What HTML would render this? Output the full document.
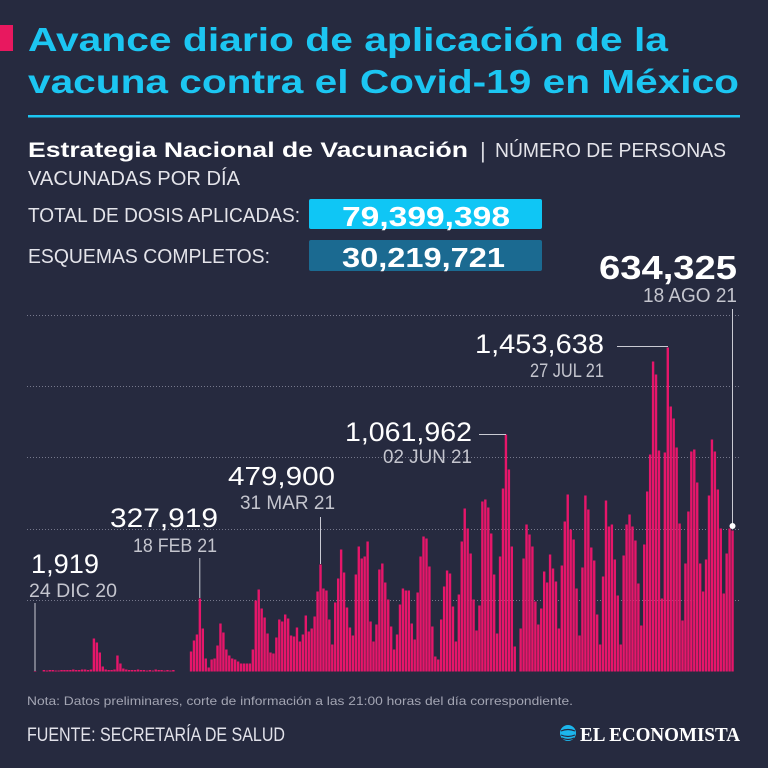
<!DOCTYPE html>
<html><head><meta charset="utf-8"><style>
html,body{margin:0;padding:0;background:#262a3f;}
svg{display:block;}
text{font-family:"Liberation Sans",sans-serif;}
</style></head><body>
<svg width="768" height="768" viewBox="0 0 768 768" xmlns="http://www.w3.org/2000/svg">
<rect x="0" y="0" width="768" height="768" fill="#262a3f"/>
<rect x="0" y="25" width="13" height="26" fill="#e8185f"/>
<text x="28" y="51" font-size="33" font-weight="bold" fill="#1cc6f2" textLength="640" lengthAdjust="spacingAndGlyphs">Avance diario de aplicación de la</text>
<text x="28" y="93" font-size="33" font-weight="bold" fill="#1cc6f2" textLength="711" lengthAdjust="spacingAndGlyphs">vacuna contra el Covid-19 en México</text>
<rect x="28" y="115" width="712" height="2.5" fill="#1cc6f2"/>
<text x="28" y="157" font-size="21" font-weight="bold" fill="#ffffff" textLength="440" lengthAdjust="spacingAndGlyphs">Estrategia Nacional de Vacunación</text>
<text x="480" y="158" font-size="22" fill="#d8d9e0">|</text>
<text x="495" y="157" font-size="20.5" fill="#e4e4ea" textLength="231" lengthAdjust="spacingAndGlyphs">NÚMERO DE PERSONAS</text>
<text x="28" y="185" font-size="20.5" fill="#e4e4ea" textLength="212" lengthAdjust="spacingAndGlyphs">VACUNADAS POR DÍA</text>
<text x="28" y="222" font-size="20.5" fill="#e4e4ea" textLength="272" lengthAdjust="spacingAndGlyphs">TOTAL DE DOSIS APLICADAS:</text>
<text x="28" y="263" font-size="20.5" fill="#e4e4ea" textLength="242" lengthAdjust="spacingAndGlyphs">ESQUEMAS COMPLETOS:</text>
<rect x="309" y="199" width="233" height="30" rx="2" fill="#0fc6f5"/>
<text x="342" y="226" font-size="28" font-weight="bold" fill="#ffffff" textLength="168" lengthAdjust="spacingAndGlyphs">79,399,398</text>
<rect x="309" y="240" width="233" height="31" rx="2" fill="#1b6a91"/>
<text x="342" y="267" font-size="28" font-weight="bold" fill="#ffffff" textLength="163" lengthAdjust="spacingAndGlyphs">30,219,721</text>

<g stroke="#8a8ca0" stroke-width="1" stroke-dasharray="1 2" opacity="0.8">
<line x1="27" y1="315.5" x2="740" y2="315.5"/>
<line x1="27" y1="386.5" x2="740" y2="386.5"/>
<line x1="27" y1="457.5" x2="740" y2="457.5"/>
<line x1="27" y1="529.5" x2="740" y2="529.5"/>
<line x1="27" y1="600.5" x2="740" y2="600.5"/>
</g>

<path fill="none" stroke="#e6166a" stroke-width="2.4" d="M35.05 671.5
v-.5m2.943 .5 v0m2.943 0 v0m2.943 0 v-1.5m2.943 1.5 v-1m2.943 1 v-1.5m2.943 1.5 v-1.5m2.943 1.5 v-1m2.943 1 v-1m2.943 1 v-1.5m2.943 1.5
v-1.5m2.943 1.5 v-1.5m2.943 1.5 v-1.5m2.943 1.5 v-2m2.943 2 v-1.5m2.943 1.5 v-1.5m2.943 1.5 v-2m2.943 2 v-2m2.943 2 v-1.5m2.943 1.5 v-2m2.943 2
v-33m2.943 33 v-29m2.943 29 v-19m2.943 19 v-5m2.943 5 v-2m2.943 2 v-1.5m2.943 1.5 v-1.5m2.943 1.5 v-2m2.943 2 v-16m2.943 16 v-8m2.943 8
v-3m2.943 3 v-2m2.943 2 v-1.5m2.943 1.5 v-1.5m2.943 1.5 v-1.5m2.943 1.5 v-2m2.943 2 v-1.5m2.943 1.5 v-1.5m2.943 1.5 v-1m2.943 1 v-1.5m2.943 1.5
v-1m2.943 1 v-2m2.943 2 v-1.5m2.943 1.5 v-1.5m2.943 1.5 v-1m2.943 1 v-1.5m2.943 1.5 v-1m2.943 1 v-1.5m2.943 1.5 v0m2.943 0 v0m2.943 0
v0m2.943 0 v0m2.943 0 v0m2.943 0 v-20m2.943 20 v-31m2.943 31 v-37m2.943 37 v-73m2.943 73 v-43m2.943 43 v-13m2.943 13 v-4m2.943 4
v-12m2.943 12 v-13m2.943 13 v-26m2.943 26 v-48m2.943 48 v-39m2.943 39 v-22m2.943 22 v-16m2.943 16 v-13m2.943 13 v-12m2.943 12 v-10m2.943 10
v-8m2.943 8 v-8m2.943 8 v-8m2.943 8 v-8m2.943 8 v-22m2.943 22 v-71m2.943 71 v-82m2.943 82 v-63m2.943 63 v-54m2.943 54 v-38m2.943 38
v-19m2.943 19 v-18m2.943 18 v-34m2.943 34 v-52m2.943 52 v-50m2.943 50 v-57m2.943 57 v-53m2.943 53 v-36m2.943 36 v-35m2.943 35 v-44m2.943 44
v-30m2.943 30 v-37m2.943 37 v-56m2.943 56 v-40m2.943 40 v-43m2.943 43 v-55m2.943 55 v-80m2.943 80 v-107m2.943 107 v-83m2.943 83 v-81m2.943 81
v-52m2.943 52 v-27m2.943 27 v-69m2.943 69 v-93m2.943 93 v-122m2.943 122 v-99m2.943 99 v-64m2.943 64 v-44m2.943 44 v-36m2.943 36 v-97m2.943 97
v-125m2.943 125 v-113m2.943 113 v-115m2.943 115 v-130m2.943 130 v-50m2.943 50 v-30m2.943 30 v-47m2.943 47 v-102m2.943 102 v-108m2.943 108 v-89m2.943 89
v-72m2.943 72 v-45m2.943 45 v-22m2.943 22 v-37m2.943 37 v-67m2.943 67 v-83m2.943 83 v-81m2.943 81 v-81m2.943 81 v-48m2.943 48 v-32m2.943 32
v-79m2.943 79 v-115m2.943 115 v-135m2.943 135 v-133m2.943 133 v-105m2.943 105 v-45m2.943 45 v-15m2.943 15 v-12m2.943 12 v-52m2.943 52 v-85m2.943 85
v-101m2.943 101 v-98m2.943 98 v-65m2.943 65 v-30m2.943 30 v-77m2.943 77 v-130m2.943 130 v-163m2.943 163 v-143m2.943 143 v-118m2.943 118 v-72m2.943 72
v-41m2.943 41 v-66m2.943 66 v-170m2.943 170 v-172m2.943 172 v-164m2.943 164 v-138m2.943 138 v-97m2.943 97 v-38m2.943 38 v-115m2.943 115 v-183m2.943 183
v-237m2.943 237 v-202m2.943 202 v-125m2.943 125 v-25m2.943 25 v0m2.943 0 v-43m2.943 43 v-113m2.943 113 v-147m2.943 147 v-137m2.943 137 v-125m2.943 125
v-70m2.943 70 v-47m2.943 47 v-63m2.943 63 v-100m2.943 100 v-89m2.943 89 v-117m2.943 117 v-103m2.943 103 v-90m2.943 90 v-43m2.943 43 v-106m2.943 106
v-150m2.943 150 v-177m2.943 177 v-142m2.943 142 v-132m2.943 132 v-83m2.943 83 v-36m2.943 36 v-104m2.943 104 v-176m2.943 176 v-162m2.943 162 v-124m2.943 124
v-111m2.943 111 v-57m2.943 57 v-27m2.943 27 v-95m2.943 95 v-171m2.943 171 v-145m2.943 145 v-147m2.943 147 v-112m2.943 112 v-76m2.943 76 v-27m2.943 27
v-116m2.943 116 v-147m2.943 147 v-157m2.943 157 v-145m2.943 145 v-131m2.943 131 v-88m2.943 88 v-46m2.943 46 v-127m2.943 127 v-180m2.943 180 v-217m2.943 217
v-310m2.943 310 v-297m2.943 297 v-221m2.943 221 v-73m2.943 73 v-219m2.943 219 v-324m2.943 324 v-265m2.943 265 v-253m2.943 253 v-224m2.943 224 v-148m2.943 148
v-51m2.943 51 v-108m2.943 108 v-160m2.943 160 v-220m2.943 220 v-222m2.943 222 v-189m2.943 189 v-108m2.943 108 v-80m2.943 80 v-112m2.943 112 v-176m2.943 176
v-232m2.943 232 v-220m2.943 220 v-182m2.943 182 v-143m2.943 143 v-78m2.943 78 v-118m2.943 118 v-143m2.943 143 v-141m2.943 141"/>

<g stroke="#c9cad3" stroke-width="1" fill="none">
<line x1="35" y1="603" x2="35" y2="671"/>
<line x1="199.8" y1="558" x2="199.8" y2="598"/>
<line x1="320.5" y1="517" x2="320.5" y2="564"/>
<line x1="479" y1="434.5" x2="506" y2="434.5"/>
<line x1="617" y1="346.5" x2="668" y2="346.5"/>
<line x1="732.5" y1="309" x2="732.5" y2="526"/>
</g>
<circle cx="732.5" cy="526" r="3" fill="#ffffff"/>

<text x="599" y="279" font-size="33" font-weight="bold" fill="#ffffff" textLength="138" lengthAdjust="spacingAndGlyphs">634,325</text>
<text x="643" y="302" font-size="20" fill="#c4c5ce" textLength="94" lengthAdjust="spacingAndGlyphs">18 AGO 21</text>
<text x="475" y="353" font-size="27" fill="#ffffff" textLength="129" lengthAdjust="spacingAndGlyphs">1,453,638</text>
<text x="530" y="377" font-size="19" fill="#c4c5ce" textLength="74" lengthAdjust="spacingAndGlyphs">27 JUL 21</text>
<text x="345" y="441" font-size="27" fill="#ffffff" textLength="127" lengthAdjust="spacingAndGlyphs">1,061,962</text>
<text x="383" y="463" font-size="19" fill="#c4c5ce" textLength="89" lengthAdjust="spacingAndGlyphs">02 JUN 21</text>
<text x="228" y="485" font-size="26" fill="#ffffff" textLength="107" lengthAdjust="spacingAndGlyphs">479,900</text>
<text x="240" y="509" font-size="19" fill="#c4c5ce" textLength="95" lengthAdjust="spacingAndGlyphs">31 MAR 21</text>
<text x="110" y="527" font-size="27" fill="#ffffff" textLength="108" lengthAdjust="spacingAndGlyphs">327,919</text>
<text x="133" y="552" font-size="19" fill="#c4c5ce" textLength="84" lengthAdjust="spacingAndGlyphs">18 FEB 21</text>
<text x="31" y="573" font-size="27" fill="#ffffff" textLength="68" lengthAdjust="spacingAndGlyphs">1,919</text>
<text x="29" y="597" font-size="19" fill="#c4c5ce" textLength="88" lengthAdjust="spacingAndGlyphs">24 DIC 20</text>

<text x="27" y="705" font-size="12" fill="#a3a5b3" textLength="546" lengthAdjust="spacingAndGlyphs">Nota: Datos preliminares, corte de información a las 21:00 horas del día correspondiente.</text>
<text x="27" y="741" font-size="19" fill="#e2e2ea" textLength="258" lengthAdjust="spacingAndGlyphs">FUENTE: SECRETARÍA DE SALUD</text>
<circle cx="568" cy="733" r="8" fill="#1cb6ec"/>
<path d="M561 731 q7 -3 14 0 M561 735 q7 3 14 0 M562 738 q6 3 12 0" stroke="#262a3f" stroke-width="1.2" fill="none"/>
<text x="580" y="741" font-size="20" font-weight="bold" fill="#ffffff" style="font-family:'Liberation Serif',serif" textLength="160" lengthAdjust="spacingAndGlyphs">EL ECONOMISTA</text>
</svg>
</body></html>
